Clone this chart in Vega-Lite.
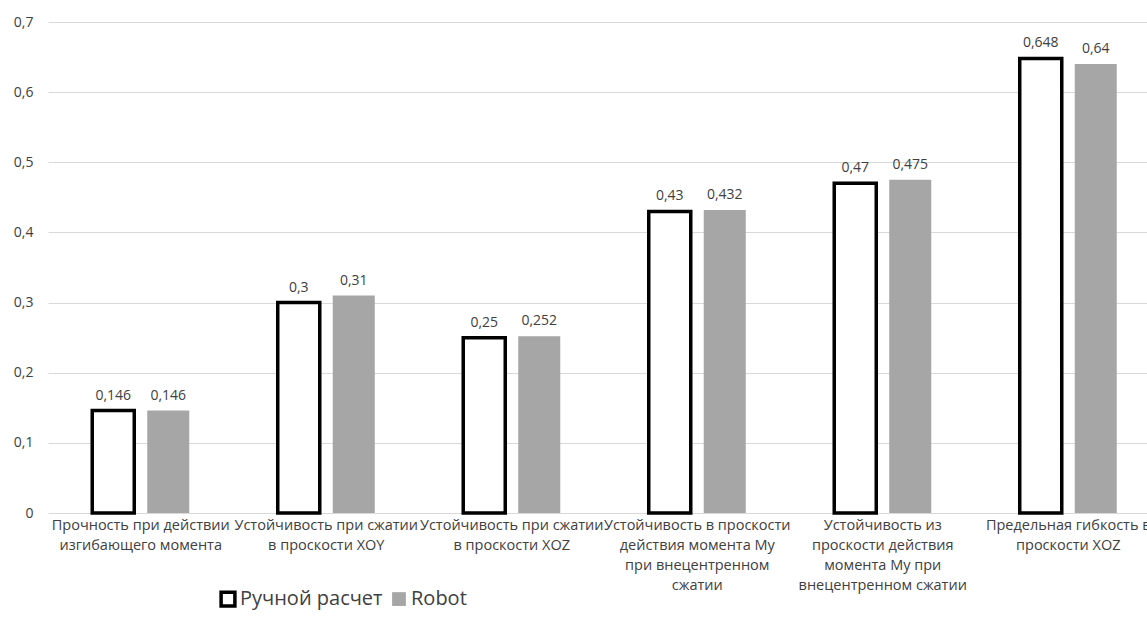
{
  "$schema": "https://vega.github.io/schema/vega-lite/v6.json",
  "autosize": {"type": "none"},
  "padding": {"left": 48, "top": 22, "right": 0, "bottom": 124},
  "width": 1099,
  "height": 491,
  "background": "white",
  "config": {
    "locale": {"number": {"decimal": ",", "thousands": " ", "grouping": [3], "currency": ["", ""]}},
    "view": {"stroke": null},
    "font": "Open Sans"
  },
  "data": {
    "values": [
      {"category": "Прочность при действии\nизгибающего момента", "series": "Ручной расчет", "value": 0.146},
      {"category": "Прочность при действии\nизгибающего момента", "series": "Robot", "value": 0.146},
      {"category": "Устойчивость при сжатии\nв проскости XOY", "series": "Ручной расчет", "value": 0.3},
      {"category": "Устойчивость при сжатии\nв проскости XOY", "series": "Robot", "value": 0.31},
      {"category": "Устойчивость при сжатии\nв проскости XOZ", "series": "Ручной расчет", "value": 0.25},
      {"category": "Устойчивость при сжатии\nв проскости XOZ", "series": "Robot", "value": 0.252},
      {"category": "Устойчивость в проскости\nдействия момента My\nпри внецентренном\nсжатии", "series": "Ручной расчет", "value": 0.43},
      {"category": "Устойчивость в проскости\nдействия момента My\nпри внецентренном\nсжатии", "series": "Robot", "value": 0.432},
      {"category": "Устойчивость из\nпроскости действия\nмомента My при\nвнецентренном сжатии", "series": "Ручной расчет", "value": 0.47},
      {"category": "Устойчивость из\nпроскости действия\nмомента My при\nвнецентренном сжатии", "series": "Robot", "value": 0.475},
      {"category": "Предельная гибкость в\nпроскости XOZ", "series": "Ручной расчет", "value": 0.648},
      {"category": "Предельная гибкость в\nпроскости XOZ", "series": "Robot", "value": 0.64}
    ]
  },
  "encoding": {
    "x": {
      "field": "category", "type": "nominal", "sort": null,
      "scale": {"range": [0, 1113], "paddingInner": 0.477, "paddingOuter": 0.2385},
      "axis": {
        "title": null, "labelAngle": 0, "domain": false, "ticks": false,
        "labelExpr": "split(datum.value, '\\n')",
        "labelFontSize": 14.5, "labelColor": "#404040", "labelPadding": 5,
        "labelLineHeight": 20, "labelBaseline": "top", "labelLimit": 300, "labelOverlap": false
      }
    },
    "xOffset": {
      "field": "series", "type": "nominal", "sort": ["Ручной расчет", "Robot"],
      "scale": {"paddingInner": 0.236, "paddingOuter": 0}
    },
    "y": {
      "field": "value", "type": "quantitative",
      "scale": {"domain": [0, 0.7], "nice": false},
      "axis": {
        "title": null, "values": [0, 0.1, 0.2, 0.3, 0.4, 0.5, 0.6, 0.7],
        "format": ".1~f", "domain": false, "ticks": false, "labelOverlap": false,
        "labelFontSize": 14, "labelColor": "#404040", "labelPadding": 15,
        "gridColor": "#d9d9d9", "gridWidth": 1
      }
    }
  },
  "layer": [
    {
      "mark": {"type": "bar", "strokeWidth": 3.5, "strokeJoin": "miter"},
      "encoding": {
        "fill": {
          "field": "series", "type": "nominal",
          "scale": {"domain": ["Ручной расчет", "Robot"], "range": ["#ffffff", "#a6a6a6"]},
          "legend": {
            "title": null, "orient": "none", "direction": "horizontal",
            "legendX": 170, "legendY": 567,
            "symbolType": "square", "symbolSize": 190, "symbolStrokeWidth": 3.5,
            "labelFontSize": 20, "labelColor": "#404040", "labelOffset": 2,
            "columnPadding": 2
          }
        },
        "stroke": {
          "field": "series", "type": "nominal",
          "scale": {"domain": ["Ручной расчет", "Robot"], "range": ["#000000", "rgba(0,0,0,0)"]},
          "legend": null
        }
      }
    },
    {
      "mark": {"type": "text", "dy": -15, "fontSize": 14, "color": "#404040"},
      "encoding": {
        "text": {"field": "value", "type": "quantitative", "format": ".3~f"}
      }
    }
  ]
}
